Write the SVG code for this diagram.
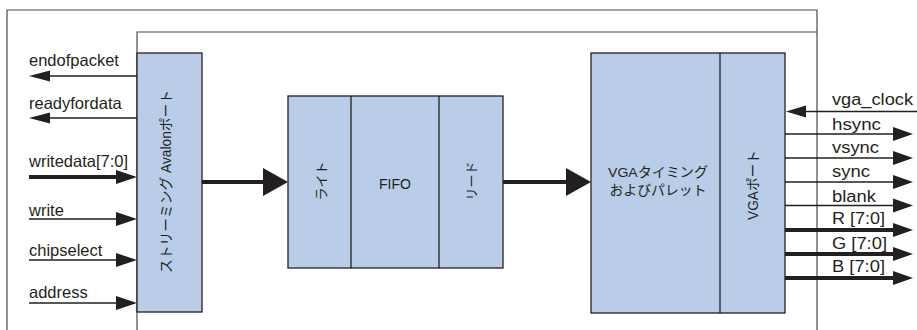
<svg xmlns="http://www.w3.org/2000/svg" width="917" height="330" viewBox="0 0 917 330">
  <style>
    .frame { fill: none; stroke: #4a4a4a; stroke-width: 1.2; }
    .box { fill: #b9cde8; stroke: #231f20; stroke-width: 1.3; }
    .div { stroke: #231f20; stroke-width: 1.3; }
    .sig { stroke: #231f20; stroke-width: 1.3; fill: none; }
    .bus { stroke: #231f20; stroke-width: 4; fill: none; }
    .head { fill: #231f20; }
    .lbl { font-family: "Liberation Sans", Arial, sans-serif; font-size: 16.5px; fill: #231f20; }
    .rlbl { font-family: "Liberation Sans", Arial, sans-serif; font-size: 16px; fill: #231f20; }
    .jp { font-family: "Liberation Sans", "Noto Sans CJK JP", sans-serif; font-size: 13.5px; fill: #231f20; }
    .mid { text-anchor: middle; }
    .vc { text-anchor: middle; dominant-baseline: central; }
  </style>

  <!-- enclosing frames -->
  <path class="frame" d="M7,330 V10 H817 V330"/>
  <path class="frame" d="M137,330 V32 H817"/>

  <!-- streaming Avalon port -->
  <g id="avalon-port">
    <rect class="box" x="137" y="53" width="65" height="259"/>
    <text class="jp vc" transform="translate(166,181.5) rotate(-90)" style="font-size:14px" textLength="183" lengthAdjust="spacingAndGlyphs">ストリーミング Avalonポート</text>
  </g>

  <!-- FIFO with write/read sides -->
  <g id="fifo">
    <rect class="box" x="288" y="96" width="215" height="172"/>
    <line class="div" x1="351" y1="96" x2="351" y2="268"/>
    <line class="div" x1="439" y1="96" x2="439" y2="268"/>
    <text class="jp vc" transform="translate(321,181) rotate(-90)" style="font-size:13px">ライト</text>
    <text class="lbl mid" x="395" y="189" style="font-size:14px">FIFO</text>
    <text class="jp vc" transform="translate(471,181) rotate(-90)" style="font-size:13px">リード</text>
  </g>

  <!-- VGA timing / palette and VGA port -->
  <g id="vga">
    <rect class="box" x="591" y="53" width="194" height="260"/>
    <line class="div" x1="720" y1="53" x2="720" y2="313"/>
    <text class="jp mid" x="658" y="177" textLength="100" lengthAdjust="spacingAndGlyphs">VGAタイミング</text>
    <text class="jp mid" x="658" y="194.5" textLength="97" lengthAdjust="spacingAndGlyphs">およびパレット</text>
    <text class="jp vc" transform="translate(752.5,185) rotate(-90)" style="font-size:14px" textLength="70" lengthAdjust="spacingAndGlyphs">VGAポート</text>
  </g>

  <!-- connectors -->
  <g id="connectors">
    <!-- left side -->
    <line class="sig" x1="137" y1="76" x2="45" y2="76"/>
    <polygon class="head" points="29,76 50,70.5 50,81.5"/>
    <line class="sig" x1="137" y1="118" x2="45" y2="118"/>
    <polygon class="head" points="29,118 50,112.5 50,123.5"/>
    <line class="bus" x1="29" y1="177" x2="120" y2="177"/>
    <polygon class="head" points="137,177 116,170 116,184"/>
    <line class="sig" x1="29" y1="219" x2="120" y2="219"/>
    <polygon class="head" points="137,219 116,212 116,226"/>
    <line class="sig" x1="29" y1="260" x2="120" y2="260"/>
    <polygon class="head" points="137,260 116,253 116,267"/>
    <line class="sig" x1="29" y1="303" x2="120" y2="303"/>
    <polygon class="head" points="137,303 116,296 116,310"/>

    <!-- internal data path -->
    <line class="bus" x1="202" y1="182" x2="266" y2="182"/>
    <polygon class="head" points="288,182 263,168 263,196"/>
    <line class="bus" x1="503" y1="182" x2="569" y2="182"/>
    <polygon class="head" points="591,182 566,168 566,196"/>

    <!-- right side -->
    <line class="sig" x1="917" y1="111.5" x2="800" y2="111.5"/>
    <polygon class="head" points="786,111.5 806,105.5 806,117.5"/>
    <line class="sig" x1="785" y1="134" x2="896" y2="134"/>
    <polygon class="head" points="913,134 893,127 893,141"/>
    <line class="sig" x1="785" y1="158" x2="896" y2="158"/>
    <polygon class="head" points="913,158 893,151 893,165"/>
    <line class="sig" x1="785" y1="182" x2="896" y2="182"/>
    <polygon class="head" points="913,182 893,175 893,189"/>
    <line class="sig" x1="785" y1="205.5" x2="896" y2="205.5"/>
    <polygon class="head" points="913,205.5 893,198.5 893,212.5"/>
    <line class="bus" x1="785" y1="230" x2="896" y2="230"/>
    <polygon class="head" points="913,230 893,223 893,237"/>
    <line class="bus" x1="785" y1="254" x2="896" y2="254"/>
    <polygon class="head" points="913,254 893,247 893,261"/>
    <line class="bus" x1="785" y1="278" x2="896" y2="278"/>
    <polygon class="head" points="913,278 893,271 893,285"/>
  </g>

  <!-- signal labels, left -->
  <g id="labels-left">
    <text class="lbl" x="29" y="66">endofpacket</text>
    <text class="lbl" x="29" y="109">readyfordata</text>
    <text class="lbl" x="29" y="167">writedata[7:0]</text>
    <text class="lbl" x="29" y="215.5">write</text>
    <text class="lbl" x="29" y="256">chipselect</text>
    <text class="lbl" x="29" y="298">address</text>
  </g>

  <!-- signal labels, right -->
  <g id="labels-right">
    <text class="rlbl" x="832" y="104.5" textLength="81" lengthAdjust="spacingAndGlyphs">vga_clock</text>
    <text class="rlbl" x="832" y="129.5" textLength="49" lengthAdjust="spacingAndGlyphs">hsync</text>
    <text class="rlbl" x="832" y="153" textLength="47" lengthAdjust="spacingAndGlyphs">vsync</text>
    <text class="rlbl" x="832" y="177" textLength="38" lengthAdjust="spacingAndGlyphs">sync</text>
    <text class="rlbl" x="832" y="201.5" textLength="44" lengthAdjust="spacingAndGlyphs">blank</text>
    <text class="rlbl" x="832" y="224" textLength="53" lengthAdjust="spacingAndGlyphs">R [7:0]</text>
    <text class="rlbl" x="832" y="248.5" textLength="55" lengthAdjust="spacingAndGlyphs">G [7:0]</text>
    <text class="rlbl" x="832" y="272" textLength="53" lengthAdjust="spacingAndGlyphs">B [7:0]</text>
  </g>
</svg>
